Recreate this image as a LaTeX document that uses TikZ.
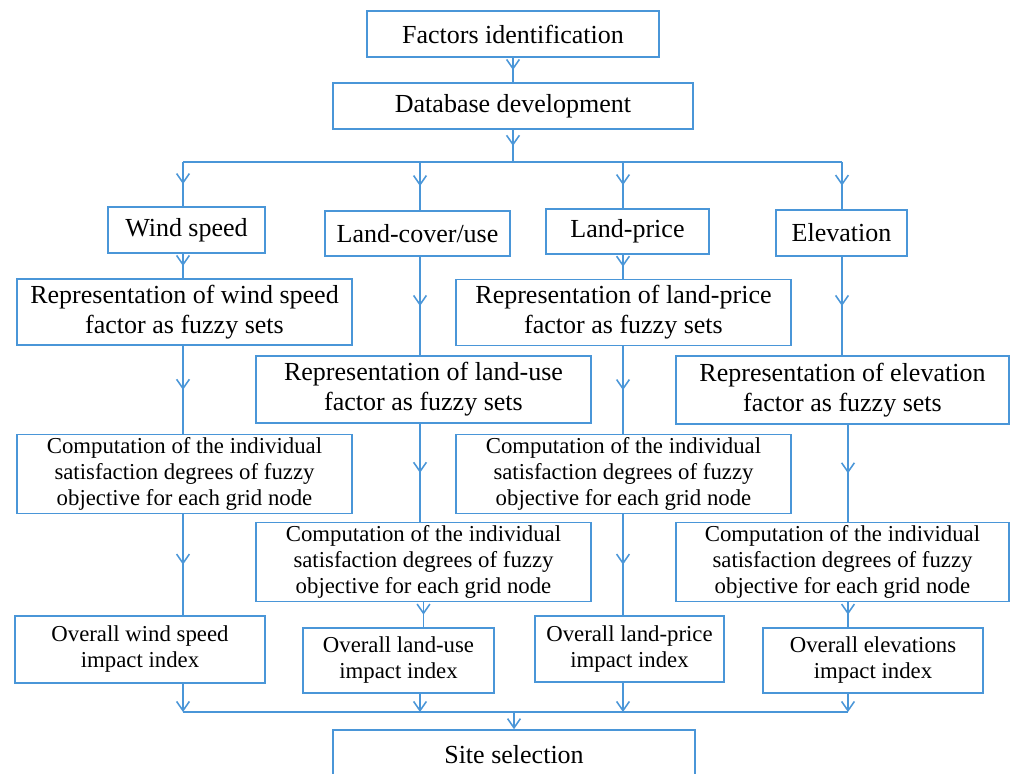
\documentclass[tikz,border=0pt]{standalone}
\usepackage{fontspec}
\setmainfont{Liberation Serif}
\usetikzlibrary{arrows.meta, positioning, decorations.markings}
\definecolor{FlowBlue}{HTML}{4A96D8}

\tikzset{
    box/.style={draw=FlowBlue, line width=1.1pt, fill=white, align=center, inner sep=2pt,
        font=\fontsize{18.5}{21.3}\selectfont},
    smallbox/.style={box, font=\fontsize{16.2}{18.5}\selectfont},
    rep/.style={box, minimum width=8.375cm, minimum height=1.65cm},
    comp/.style={smallbox, minimum width=8.375cm, minimum height=1.95cm},
    link/.style={draw=FlowBlue, line width=1.1pt},
    midarrow/.style={link, postaction={decorate},
        decoration={markings, mark=at position 0.5 with
            {\arrow[FlowBlue, line width=1.1pt]{Straight Barb[length=2.3mm,width=3.2mm]}}}},
    endarrow/.style={link, -{Straight Barb[length=2.3mm,width=3.2mm]}}
}

\begin{document}
\begin{tikzpicture}[x=0.025cm, y=-0.025cm]
    \useasboundingbox (0,0) rectangle (1014,774);

    % Top of the flow
    \node[box, minimum width=7.3cm, minimum height=1.15cm] (factors) at (513,34) {Factors identification};
    \node[box, minimum width=9cm, minimum height=1.15cm] (database) at (513,106) {Database development};

    % Columns of the four factors
    \coordinate (colA) at (183,0);
    \coordinate (colB) at (420,0);
    \coordinate (colC) at (623,0);
    \coordinate (colD) at (842,0);
    \coordinate (colE) at (848,0);

    \node[box, minimum width=3.925cm, minimum height=1.15cm] (wind) at (186.5,230) {Wind speed};
    \node[box, minimum width=4.625cm, minimum height=1.125cm] (cover) at (417.5,233.5) {Land-cover/use};
    \node[box, minimum width=4.075cm, minimum height=1.125cm] (price) at (627.5,231.5) {Land-price};
    \node[box, minimum width=3.275cm, minimum height=1.15cm] (elev) at (841.5,233) {Elevation};

    % Fuzzy set representation
    \node[rep] (repWind) at (184.5,312) {Representation of wind speed\\factor as fuzzy sets};
    \node[rep, minimum height=1.675cm] (repUse) at (423.5,389.5) {Representation of land-use\\factor as fuzzy sets};
    \node[rep] (repPrice) at (623.5,312.5) {Representation of land-price\\factor as fuzzy sets};
    \node[rep, minimum width=8.325cm, minimum height=1.7cm] (repElev) at (842.5,390) {Representation of elevation\\factor as fuzzy sets};

    % Satisfaction degrees
    \node[comp] (compWind) at (184.5,474) {Computation of the individual\\satisfaction degrees of fuzzy\\objective for each grid node};
    \node[comp] (compUse) at (423.5,562) {Computation of the individual\\satisfaction degrees of fuzzy\\objective for each grid node};
    \node[comp] (compPrice) at (623.5,474) {Computation of the individual\\satisfaction degrees of fuzzy\\objective for each grid node};
    \node[comp, minimum width=8.325cm] (compElev) at (842.5,562) {Computation of the individual\\satisfaction degrees of fuzzy\\objective for each grid node};

    % Impact indices
    \node[smallbox, minimum width=6.25cm, minimum height=1.675cm] (allWind) at (140,649.5) {Overall wind speed\\impact index};
    \node[smallbox, minimum width=4.775cm, minimum height=1.625cm] (allUse) at (398.5,660.5) {Overall land-use\\impact index};
    \node[smallbox, minimum width=4.725cm, minimum height=1.65cm] (allPrice) at (629.5,649) {Overall land-price\\impact index};
    \node[smallbox, minimum width=5.5cm, minimum height=1.625cm] (allElev) at (873,660.5) {Overall elevations\\impact index};

    \node[box, minimum width=9.05cm, minimum height=1.25cm] (site) at (514,755) {Site selection};

    % Connectors
    \coordinate (split) at (513,162);
    \coordinate (join) at (514,712);
    \draw[midarrow] (factors) -- (database);
    \draw[midarrow] (database) -- (split);
    \draw[link] (split -| colA) -- (split -| colD);
    \draw[midarrow] (split -| colA) -- (wind.north -| colA);
    \draw[midarrow] (split -| colB) -- (cover.north -| colB);
    \draw[midarrow] (split -| colC) -- (price.north -| colC);
    \draw[midarrow] (split -| colD) -- (elev.north -| colD);

    \draw[midarrow] (wind.south -| colA) -- (repWind.north -| colA);
    \draw[midarrow] (cover.south -| colB) -- (repUse.north -| colB);
    \draw[midarrow] (price.south -| colC) -- (repPrice.north -| colC);
    \draw[midarrow] (elev.south -| colD) -- (repElev.north -| colD);

    \draw[midarrow] (repWind.south -| colA) -- (compWind.north -| colA);
    \draw[midarrow] (repUse.south -| colB) -- (compUse.north -| colB);
    \draw[midarrow] (repPrice.south -| colC) -- (compPrice.north -| colC);
    \draw[midarrow] (repElev.south -| colE) -- (compElev.north -| colE);

    \draw[midarrow] (compWind.south -| colA) -- (allWind.north -| colA);
    \draw[midarrow] (compUse.south) -- (compUse.south |- allUse.north);
    \draw[midarrow] (compPrice.south -| colC) -- (allPrice.north -| colC);
    \draw[midarrow] (compElev.south -| colE) -- (allElev.north -| colE);

    \draw[link] (join -| colA) -- (join -| colE);
    \draw[endarrow] (allWind.south -| colA) -- (join -| colA);
    \draw[endarrow] (allUse.south -| colB) -- (join -| colB);
    \draw[endarrow] (allPrice.south -| colC) -- (join -| colC);
    \draw[endarrow] (allElev.south -| colE) -- (join -| colE);
    \draw[endarrow] (join) -- (site.north);
\end{tikzpicture}
\end{document}
